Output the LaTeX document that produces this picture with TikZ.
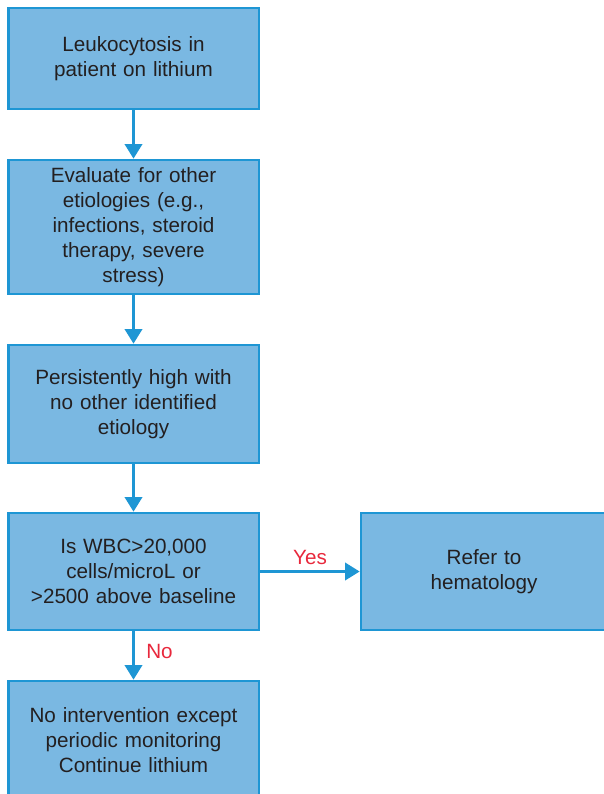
\documentclass[tikz,border=0pt]{standalone}
\usepackage{fontspec}
\setmainfont{Liberation Sans}
\usetikzlibrary{arrows.meta}
\definecolor{boxfill}{HTML}{7AB8E2}
\definecolor{boxline}{HTML}{1E96D4}
\definecolor{textdark}{HTML}{231F20}
\definecolor{answer}{HTML}{E8283C}
\begin{document}
\begin{tikzpicture}[x=0.75pt, y=-0.75pt,
      font=\fontsize{15.5pt}{18.75pt}\selectfont, text=textdark,
      box/.style={draw=boxline, fill=boxfill, line width=2pt, align=center,
        minimum width=188pt, inner sep=0pt, text width=170pt},
      flow/.style={draw=boxline, line width=2.2pt,
        -{Triangle[width=13pt, length=11pt]}},
      reply/.style={text=answer, inner sep=0pt}]
    \useasboundingbox (0,0) rectangle (604,794);
    % main column
    \node[box, minimum height=75.75pt] (lith) at (133.5,58.5)
      {Leukocytosis in\\patient on lithium};
    \node[box, minimum height=100.5pt] (eval) at (133.5,227)
      {Evaluate for other\\etiologies (e.g.,\\infections, steroid\\therapy, severe\\stress)};
    \node[box, minimum height=88.5pt] (high) at (133.5,404)
      {Persistently high with\\no other identified\\etiology};
    \node[box, minimum height=87.75pt] (wbc) at (133.5,571.5)
      {Is WBC>20,000\\cells/microL or\\>2500 above baseline};
    \node[box, minimum height=88.5pt] (cont) at (133.5,740)
      {No intervention except\\periodic monitoring\\Continue lithium};
    % side branch
    \node[box, minimum width=184.5pt, minimum height=87.75pt] (hema) at (484,571.5)
      {Refer to\\hematology};
    % arrows
    \draw[flow] (lith) -- (eval);
    \draw[flow] (eval) -- (high);
    \draw[flow] (high) -- (wbc);
    \draw[flow] (wbc) -- (cont);
    \draw[flow] (wbc) -- (hema);
    % answers
    \node[reply] (yes) at (310,557) {Yes};
    \node[reply, anchor=west] (no) at (146,651) {No};
\end{tikzpicture}
\end{document}
